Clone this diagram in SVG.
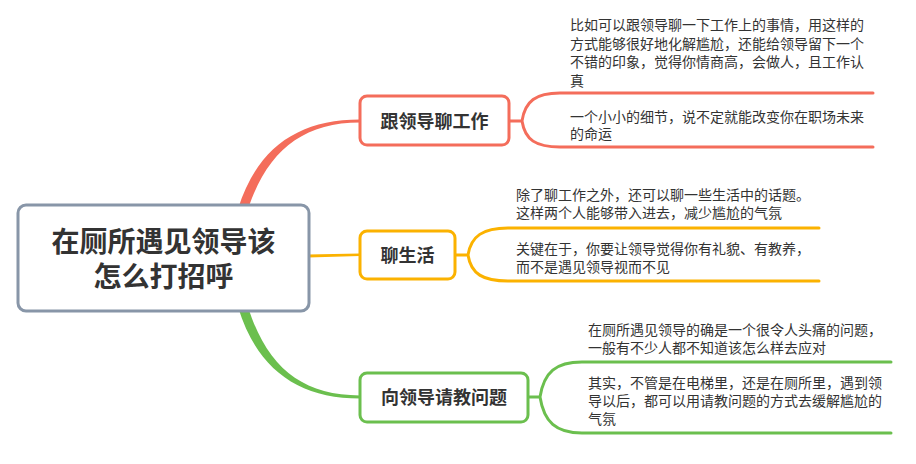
<svg xmlns="http://www.w3.org/2000/svg" width="916" height="464" viewBox="0 0 916 464">
<style>
.t{font-family:"Noto Sans CJK SC","Noto Sans",sans-serif;fill:#333}
.root{font-size:28px;font-weight:bold;text-anchor:middle}
.br{font-size:18px;font-weight:bold;text-anchor:middle}
.lf{font-size:14px}
.box{fill:#fff;stroke-width:3}
.ln{fill:none;stroke-width:3;stroke-linecap:round}
</style>
<rect width="916" height="464" fill="#fff"/>
<g id="connectors">
<path d="M238,209 C257,148 298,119.5 360,119.5 L360,122.5 C302,122.5 267,152 248,209 Z" fill="#f46d5b"/>
<path d="M308,254.5 L360,253.5 L360,256 L308,257.5 Z" fill="#fbb200"/>
<path d="M238,307 C257,369 298,398.5 360,398.5 L360,395.5 C302,395.5 267,367 248,307 Z" fill="#6bbf4e"/>
<path class="ln" stroke="#f46d5b" d="M509,121 H522 M522,121 C525,101 536,93 560,93 H873 M522,121 C525,140 536,147 560,147 H873"/>
<path class="ln" stroke="#fbb200" d="M455,255 H468 M468,255 C471,236 483,228 508,228 H819 M468,255 C471,274 483,281 508,281 H819"/>
<path class="ln" stroke="#6bbf4e" d="M528,397 H540 M540,397 C544,372 556,362 582,362 H891 M540,397 C544,422 556,433 582,433 H891"/>
</g>
<g id="root">
<rect class="box" x="18" y="205" width="291" height="106" rx="8" stroke="#8896a8"/>
<text class="t root" x="163.5" y="252">在厕所遇见领导该</text>
<text class="t root" x="163.5" y="287">怎么打招呼</text>
</g>
<g id="b1">
<rect class="box" x="360" y="96" width="149" height="49" rx="7" stroke="#f46d5b"/>
<text class="t br" x="434.5" y="127.5">跟领导聊工作</text>
</g>
<g id="b1a">
<text class="t lf" x="570" y="30">比如可以跟领导聊一下工作上的事情，用这样的</text>
<text class="t lf" x="570" y="48.5">方式能够很好地化解尴尬，还能给领导留下一个</text>
<text class="t lf" x="570" y="67">不错的印象，觉得你情商高，会做人，且工作认</text>
<text class="t lf" x="570" y="85.5">真</text>
</g>
<g id="b1b">
<text class="t lf" x="570" y="122">一个小小的细节，说不定就能改变你在职场未来</text>
<text class="t lf" x="570" y="138.5">的命运</text>
</g>
<g id="b2">
<rect class="box" x="360" y="231" width="95" height="48" rx="7" stroke="#fbb200"/>
<text class="t br" x="407.5" y="261.5">聊生活</text>
</g>
<g id="b2a">
<text class="t lf" x="516" y="200">除了聊工作之外，还可以聊一些生活中的话题。</text>
<text class="t lf" x="516" y="218">这样两个人能够带入进去，减少尴尬的气氛</text>
</g>
<g id="b2b">
<text class="t lf" x="516" y="254">关键在于，你要让领导觉得你有礼貌、有教养，</text>
<text class="t lf" x="516" y="272">而不是遇见领导视而不见</text>
</g>
<g id="b3">
<rect class="box" x="360" y="373" width="168" height="49" rx="7" stroke="#6bbf4e"/>
<text class="t br" x="444" y="403.5">向领导请教问题</text>
</g>
<g id="b3a">
<text class="t lf" x="588" y="335">在厕所遇见领导的确是一个很令人头痛的问题，</text>
<text class="t lf" x="588" y="353">一般有不少人都不知道该怎么样去应对</text>
</g>
<g id="b3b">
<text class="t lf" x="588" y="388">其实，不管是在电梯里，还是在厕所里，遇到领</text>
<text class="t lf" x="588" y="406">导以后，都可以用请教问题的方式去缓解尴尬的</text>
<text class="t lf" x="588" y="423.5">气氛</text>
</g>
</svg>
